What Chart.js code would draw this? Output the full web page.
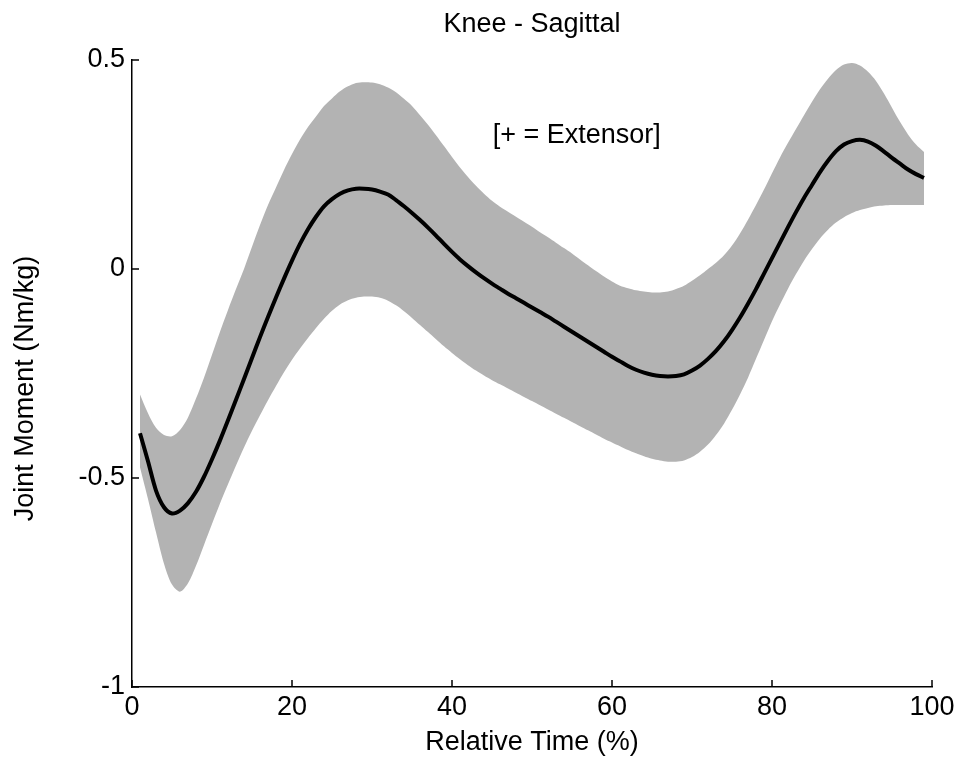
<!DOCTYPE html>
<html>
<head>
<meta charset="utf-8">
<title>Knee - Sagittal</title>
<script src="https://cdn.jsdelivr.net/npm/chart.js@4"></script>
<style>
  html, body { margin: 0; padding: 0; background: #fff; }
  #wrap { width: 961px; height: 772px; }
</style>
</head>
<body>
<div id="wrap"><canvas id="kneeChart" width="961" height="772"></canvas></div>
<script>
// relative time (% of cycle)
const relTime = [
   1,  2,  3,  4,  5,  6,  7,  8,  9, 10, 11, 12, 13, 14, 15, 16, 17, 18, 19, 20,
  21, 22, 23, 24, 25, 26, 27, 28, 29, 30, 31, 32, 33, 34, 35, 36, 37, 38, 39, 40,
  41, 42, 43, 44, 45, 46, 47, 48, 49, 50, 51, 52, 53, 54, 55, 56, 57, 58, 59, 60,
  61, 62, 63, 64, 65, 66, 67, 68, 69, 70, 71, 72, 73, 74, 75, 76, 77, 78, 79, 80,
  81, 82, 83, 84, 85, 86, 87, 88, 89, 90, 91, 92, 93, 94, 95, 96, 97, 98, 99
];

// mean knee sagittal moment (Nm/kg)
const meanMoment = [
  -0.393, -0.460, -0.530, -0.570, -0.585, -0.578, -0.560, -0.533, -0.497, -0.455,
  -0.410, -0.362, -0.313, -0.263, -0.213, -0.163, -0.115, -0.068, -0.023,  0.020,
   0.060,  0.095,  0.125,  0.150,  0.167,  0.180,  0.188,  0.192,  0.192,  0.190,
   0.185,  0.178,  0.165,  0.150,  0.134,  0.117,  0.099,  0.080,  0.060,  0.041,
   0.023,  0.007, -0.008, -0.022, -0.035, -0.047, -0.059, -0.070, -0.081, -0.092,
  -0.103, -0.114, -0.126, -0.138, -0.150, -0.162, -0.174, -0.186, -0.198, -0.210,
  -0.221, -0.232, -0.241, -0.248, -0.253, -0.256, -0.257, -0.256, -0.252, -0.243,
  -0.231, -0.215, -0.196, -0.173, -0.146, -0.116, -0.083, -0.048, -0.011,  0.026,
   0.063,  0.100,  0.136,  0.170,  0.201,  0.232,  0.259,  0.282,  0.298,  0.306,
   0.309,  0.305,  0.295,  0.281,  0.266,  0.252,  0.238,  0.227,  0.218
];

// upper edge of the shaded band
const upperBound = [
  -0.300, -0.345, -0.380, -0.397, -0.400, -0.385, -0.355, -0.310, -0.260, -0.205,
  -0.150, -0.098, -0.048,  0.000,  0.053,  0.105,  0.153,  0.195,  0.237,  0.275,
   0.310,  0.340,  0.365,  0.390,  0.408,  0.425,  0.437,  0.445,  0.447,  0.446,
   0.442,  0.434,  0.423,  0.407,  0.390,  0.368,  0.345,  0.320,  0.294,  0.268,
   0.243,  0.220,  0.199,  0.180,  0.163,  0.149,  0.137,  0.125,  0.113,  0.101,
   0.088,  0.076,  0.063,  0.050,  0.037,  0.023,  0.009, -0.005, -0.018, -0.030,
  -0.040, -0.046, -0.051, -0.054, -0.056, -0.056, -0.054, -0.048, -0.040, -0.028,
  -0.015,  0.000,  0.015,  0.033,  0.056,  0.085,  0.118,  0.153,  0.190,  0.229,
   0.267,  0.302,  0.335,  0.368,  0.400,  0.430,  0.455,  0.476,  0.489,  0.493,
   0.487,  0.472,  0.450,  0.420,  0.386,  0.352,  0.322,  0.298,  0.280
];

// lower edge of the shaded band
const lowerBound = [
  -0.474, -0.550, -0.630, -0.705, -0.755, -0.772, -0.752, -0.710, -0.660, -0.610,
  -0.561, -0.515, -0.470, -0.427, -0.387, -0.350, -0.314, -0.280, -0.247, -0.217,
  -0.190, -0.165, -0.141, -0.119, -0.100, -0.085, -0.075, -0.069, -0.066, -0.066,
  -0.069, -0.076, -0.087, -0.101, -0.117, -0.134, -0.151, -0.168, -0.185, -0.201,
  -0.216, -0.230, -0.243, -0.255, -0.266, -0.276, -0.286, -0.296, -0.306, -0.316,
  -0.326, -0.336, -0.346, -0.356, -0.366, -0.376, -0.386, -0.396, -0.406, -0.415,
  -0.424, -0.433, -0.441, -0.448, -0.454, -0.458, -0.461, -0.461, -0.458, -0.450,
  -0.437, -0.420, -0.397, -0.370, -0.337, -0.300, -0.260, -0.215, -0.170, -0.125,
  -0.085, -0.047, -0.012,  0.020,  0.048,  0.073,  0.094,  0.111,  0.124,  0.134,
   0.141,  0.146,  0.150,  0.152,  0.153,  0.153,  0.153,  0.153,  0.153
];

const xTicks = [0, 20, 40, 60, 80, 100];
const yTicks = [-1, -0.5, 0, 0.5];

const noteText = '[+ = Extensor]';
const noteAt = { x: 55.6, y: 0.32 };

const FONT = '"Liberation Sans", Arial, Helvetica, sans-serif';
Chart.defaults.font.family = FONT;
Chart.defaults.color = '#000';

const toPoints = ys => relTime.map((t, i) => ({ x: t, y: ys[i] }));

// matlab-style tick marks pointing into the plot
const inwardTicks = {
  id: 'inwardTicks',
  afterDatasetsDraw(chart) {
    const { ctx, chartArea, scales: { x, y } } = chart;
    ctx.save();
    ctx.strokeStyle = '#000';
    ctx.lineWidth = 1.5;
    ctx.beginPath();
    x.ticks.forEach(t => {
      const px = x.getPixelForValue(t.value);
      ctx.moveTo(px, chartArea.bottom);
      ctx.lineTo(px, chartArea.bottom - 7);
    });
    y.ticks.forEach(t => {
      const py = y.getPixelForValue(t.value);
      ctx.moveTo(chartArea.left, py);
      ctx.lineTo(chartArea.left + 7, py);
    });
    ctx.stroke();
    ctx.restore();
  }
};

const signNote = {
  id: 'signNote',
  afterDatasetsDraw(chart) {
    const { ctx, scales: { x, y } } = chart;
    ctx.save();
    ctx.font = '27px ' + FONT;
    ctx.fillStyle = '#000';
    ctx.textAlign = 'center';
    ctx.textBaseline = 'middle';
    ctx.fillText(noteText, x.getPixelForValue(noteAt.x), y.getPixelForValue(noteAt.y));
    ctx.restore();
  }
};

const axisFont = { size: 27 };

const ctx = document.getElementById('kneeChart').getContext('2d');
const kneeChart = new Chart(ctx, {
  type: 'line',
  data: {
    datasets: [
      {
        label: 'Mean',
        data: toPoints(meanMoment),
        borderColor: '#000',
        borderWidth: 4,
        pointRadius: 0,
        fill: false,
        tension: 0.3
      },
      {
        label: 'Upper',
        data: toPoints(upperBound),
        borderColor: 'transparent',
        borderWidth: 0,
        backgroundColor: '#b3b3b3',
        pointRadius: 0,
        fill: '+1',
        tension: 0.3
      },
      {
        label: 'Lower',
        data: toPoints(lowerBound),
        borderColor: 'transparent',
        borderWidth: 0,
        pointRadius: 0,
        fill: false,
        tension: 0.3
      }
    ]
  },
  options: {
    responsive: false,
    animation: false,
    layout: { padding: { top: 0, left: 0, bottom: 0, right: 29 } },
    plugins: {
      legend: { display: false },
      tooltip: { enabled: false },
      title: {
        display: true,
        fullSize: false,
        text: 'Knee - Sagittal',
        color: '#000',
        font: { size: 27, weight: 'normal', lineHeight: 1.2 },
        padding: { top: 8, bottom: 19.6 }
      }
    },
    scales: {
      x: {
        type: 'linear',
        min: 0,
        max: 100,
        afterBuildTicks: s => { s.ticks = xTicks.map(v => ({ value: v })); },
        afterFit: s => { s.height = 85; },
        grid: { display: false, drawTicks: false },
        border: { display: true, color: '#000', width: 1.5 },
        ticks: { font: axisFont, color: '#000', padding: 4, maxRotation: 0 },
        title: {
          display: true,
          text: 'Relative Time (%)',
          font: axisFont,
          color: '#000',
          padding: { top: 0, bottom: 13 }
        }
      },
      y: {
        type: 'linear',
        min: -1,
        max: 0.5,
        afterBuildTicks: s => { s.ticks = yTicks.map(v => ({ value: v })); },
        afterFit: s => { s.width = 132; },
        grid: { display: false, drawTicks: false },
        border: { display: true, color: '#000', width: 1.5 },
        ticks: { font: axisFont, color: '#000', padding: 7, callback: v => String(v) },
        title: {
          display: true,
          // trailing spaces nudge the rotated label down a little
          text: 'Joint Moment (Nm/kg)    ',
          font: axisFont,
          color: '#000',
          padding: { top: 9, bottom: 0 }
        }
      }
    }
  },
  plugins: [inwardTicks, signNote]
});
</script>
</body>
</html>
